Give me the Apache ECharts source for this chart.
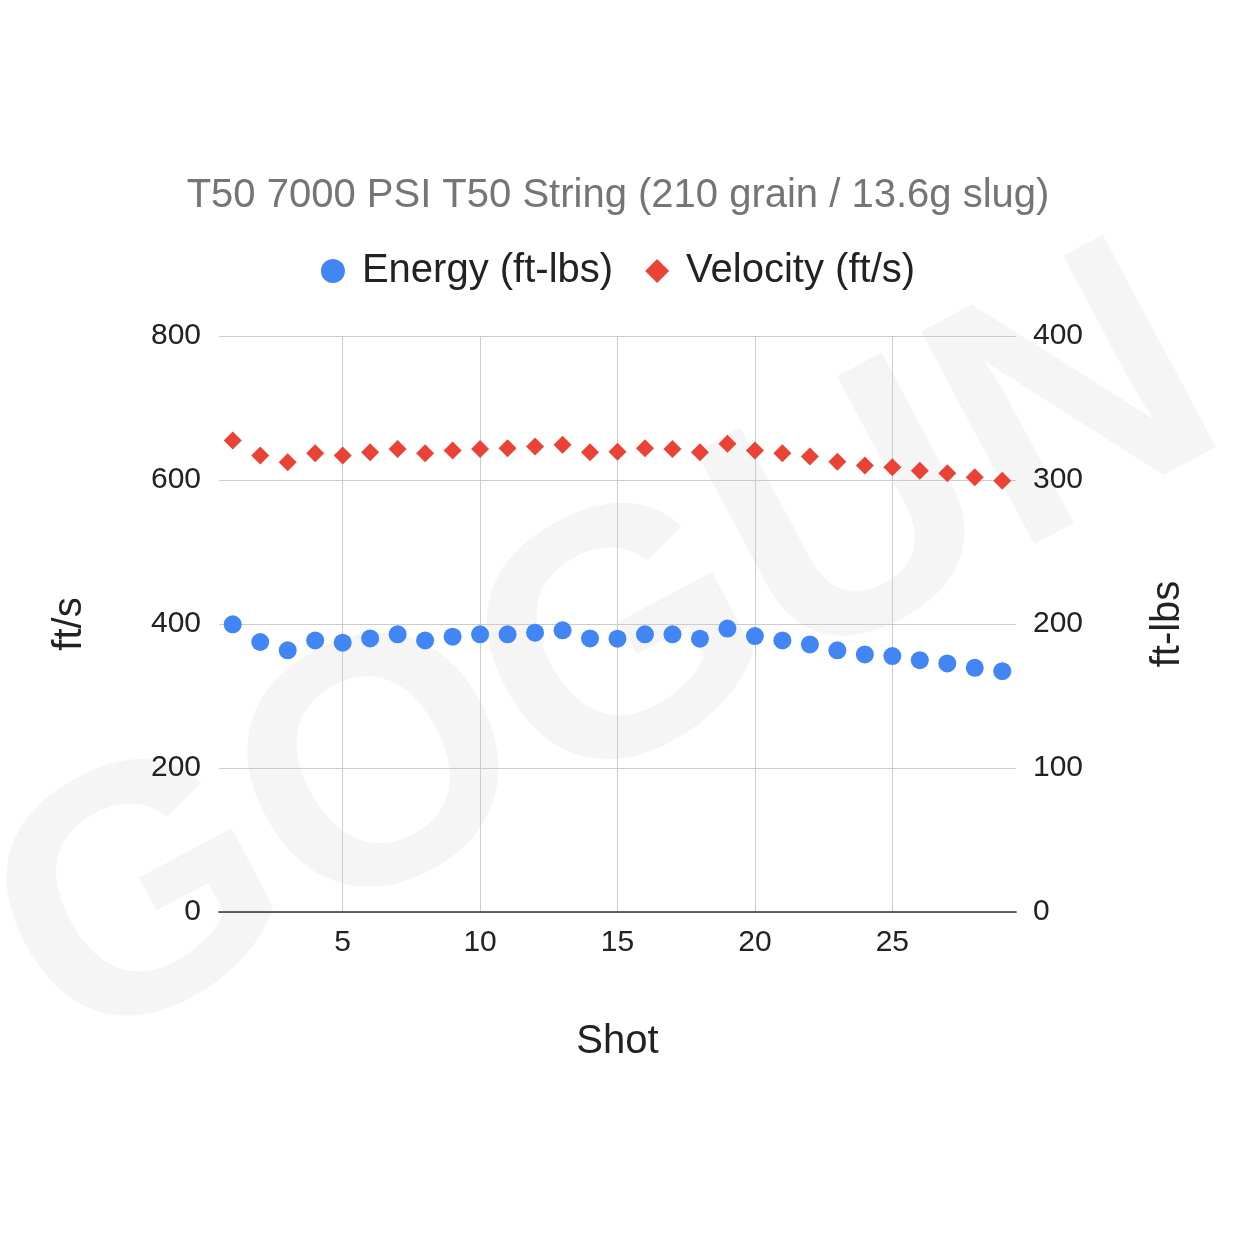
<!DOCTYPE html>
<html>
<head>
<meta charset="utf-8">
<script src="https://cdn.jsdelivr.net/npm/echarts@6/dist/echarts.min.js"></script>
<style>html,body{margin:0;padding:0;background:#fff;}#c{width:1236px;height:1236px;}</style>
</head>
<body>
<div id="c"></div>
<script>
const titleText = 'T50 7000 PSI T50 String (210 grain / 13.6g slug)';
const shots = [1,2,3,4,5,6,7,8,9,10,11,12,13,14,15,16,17,18,19,20,21,22,23,24,25,26,27,28,29];
const energy = [199.8,187.5,181.7,188.6,187,190,192.8,188.6,191.2,192.8,192.8,194,195.6,190,189.8,192.8,192.8,189.8,196.8,191.6,188.6,185.8,181.7,178.9,177.7,174.9,172.6,169.6,167.2];
const velocity = [654.7,633.9,624.7,637.2,633.9,638.6,643.2,637.2,640.8,643.2,644.2,646.4,648.8,638.6,639.4,644.2,643.2,638.6,650.2,640.8,637.2,632.5,625.5,620,617.7,613,609.3,603.8,599.1];
const xTicks = [5,10,15,20,25];
const leftTicks = [0,200,400,600,800];
const rightTicks = [0,100,200,300,400];

const FONT = 'Liberation Sans, Arial, sans-serif';
const chart = echarts.init(document.getElementById('c'));
chart.setOption({
  backgroundColor: '#ffffff',
  animation: false,
  graphic: [{
    type: 'text', x: 608, y: 662, rotation: 0.49, z: -10,
    style: { text: 'GOGUN', font: 'bold 350px Liberation Sans', fill: '#f5f5f5', align: 'center', verticalAlign: 'middle' }
  }],
  title: {
    text: titleText, left: 'center', top: 171,
    textStyle: { fontFamily: FONT, fontSize: 40, fontWeight: 'normal', color: '#757575' }
  },
  legend: {
    top: 246, left: 'center', itemGap: 32, itemWidth: 24, itemHeight: 24,
    textStyle: { fontFamily: FONT, fontSize: 40, color: '#222', padding: [0, 0, 0, 12] },
    data: [{ name: 'Energy (ft-lbs)', icon: 'circle' }, { name: 'Velocity (ft/s)', icon: 'diamond' }]
  },
  grid: { left: 219, right: 220, top: 336, bottom: 324, containLabel: false },
  xAxis: {
    type: 'value', min: 0.5, max: 29.5,
    name: 'Shot', nameLocation: 'middle', nameGap: 110,
    nameTextStyle: { fontFamily: FONT, fontSize: 40, color: '#222' },
    axisLine: { show: true, onZero: false, lineStyle: { color: '#333', width: 1.7 } },
    axisTick: { show: false, customValues: xTicks },
    axisLabel: { customValues: xTicks, margin: 16, fontFamily: FONT, fontSize: 30, color: '#222' },
    splitLine: { show: true, lineStyle: { color: '#cccccc', width: 1 } }
  },
  yAxis: [{
    type: 'value', min: leftTicks[0], max: leftTicks[leftTicks.length - 1], interval: 200, position: 'left',
    name: 'ft/s', nameLocation: 'middle', nameGap: 129, nameRotate: 90,
    nameTextStyle: { fontFamily: FONT, fontSize: 40, color: '#222' },
    axisLine: { show: false }, axisTick: { show: false },
    axisLabel: { margin: 18, fontFamily: FONT, fontSize: 30, color: '#222' },
    splitLine: { show: true, lineStyle: { color: '#cccccc', width: 1 } }
  }, {
    type: 'value', min: rightTicks[0], max: rightTicks[rightTicks.length - 1], interval: 100, position: 'right',
    name: 'ft-lbs', nameLocation: 'middle', nameGap: 132, nameRotate: 90,
    nameTextStyle: { fontFamily: FONT, fontSize: 40, color: '#222' },
    axisLine: { show: false }, axisTick: { show: false },
    axisLabel: { margin: 17, fontFamily: FONT, fontSize: 30, color: '#222' },
    splitLine: { show: false }
  }],
  series: [{
    name: 'Energy (ft-lbs)', type: 'scatter', yAxisIndex: 1,
    symbol: 'circle', symbolSize: 18, itemStyle: { color: '#4285F4', opacity: 1 },
    data: shots.map((s, i) => [s, energy[i]])
  }, {
    name: 'Velocity (ft/s)', type: 'scatter', yAxisIndex: 0,
    symbol: 'diamond', symbolSize: 18, itemStyle: { color: '#EA4335', opacity: 1 },
    data: shots.map((s, i) => [s, velocity[i]])
  }]
});
</script>
</body>
</html>
